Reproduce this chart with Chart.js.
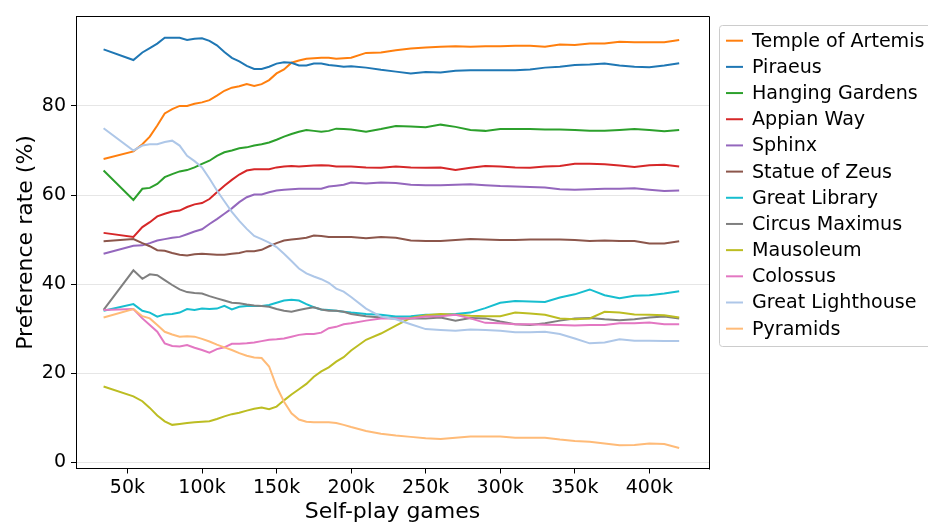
<!DOCTYPE html>
<html><head><meta charset="utf-8">
<script src="https://cdn.jsdelivr.net/npm/chart.js@4"></script>
<style>html,body{margin:0;padding:0;background:#fff;overflow:hidden}#wrap{width:928px;height:523px;position:relative}</style>
</head><body><div id="wrap"><canvas id="c" width="928" height="523"></canvas></div>
<script>
// x positions (thousands of self-play games)
const games = [34, 54, 60, 65, 70, 75, 80, 85, 90, 95, 100, 105, 110, 115, 120, 125, 130, 135, 140, 145, 150, 155, 160, 165, 170, 175, 180, 185, 190, 195, 200, 210, 220, 230, 240, 250, 260, 270, 280, 290, 300, 310, 320, 330, 340, 350, 360, 370, 380, 390, 400, 410, 420];

const templeOfArtemis = [68.1, 69.8, 71.4, 73.1, 75.6, 78.3, 79.3, 80.0, 80.0, 80.5, 80.8, 81.3, 82.3, 83.4, 84.1, 84.4, 84.9, 84.5, 84.9, 85.8, 87.3, 88.2, 89.7, 90.2, 90.6, 90.7, 90.8, 90.8, 90.6, 90.7, 90.8, 91.9, 92.0, 92.5, 92.9, 93.1, 93.3, 93.4, 93.3, 93.4, 93.4, 93.5, 93.5, 93.3, 93.8, 93.7, 94.0, 94.0, 94.4, 94.3, 94.3, 94.3, 94.8];
const piraeus = [92.7, 90.3, 92.0, 93.0, 94.0, 95.3, 95.3, 95.3, 94.8, 95.1, 95.2, 94.6, 93.6, 92.1, 90.8, 90.0, 89.0, 88.3, 88.3, 88.8, 89.5, 89.8, 89.7, 89.1, 89.1, 89.5, 89.5, 89.2, 89.0, 88.8, 88.9, 88.6, 88.1, 87.7, 87.3, 87.6, 87.5, 87.9, 88.0, 88.0, 88.0, 88.0, 88.2, 88.6, 88.8, 89.2, 89.3, 89.5, 89.1, 88.8, 88.7, 89.1, 89.6];
const hangingGardens = [65.5, 58.9, 61.4, 61.6, 62.5, 64.0, 64.7, 65.3, 65.6, 66.2, 67.0, 67.7, 68.8, 69.6, 70.0, 70.5, 70.7, 71.1, 71.4, 71.8, 72.4, 73.1, 73.7, 74.2, 74.6, 74.4, 74.2, 74.4, 74.9, 74.8, 74.7, 74.2, 74.8, 75.5, 75.4, 75.2, 75.8, 75.3, 74.6, 74.4, 74.8, 74.8, 74.8, 74.7, 74.7, 74.6, 74.4, 74.4, 74.6, 74.8, 74.6, 74.3, 74.6];
const appianWay = [51.5, 50.6, 52.8, 53.9, 55.2, 55.8, 56.3, 56.5, 57.3, 57.9, 58.2, 59.1, 60.6, 62.1, 63.4, 64.6, 65.5, 65.8, 65.8, 65.8, 66.2, 66.4, 66.5, 66.4, 66.5, 66.6, 66.7, 66.6, 66.4, 66.4, 66.4, 66.2, 66.1, 66.4, 66.2, 66.1, 66.2, 65.6, 66.1, 66.5, 66.4, 66.2, 66.1, 66.4, 66.5, 67.0, 67.0, 66.9, 66.6, 66.3, 66.7, 66.8, 66.4];
const sphinx = [46.8, 48.6, 48.7, 49.2, 49.8, 50.1, 50.4, 50.6, 51.2, 51.8, 52.3, 53.5, 54.6, 55.8, 57.0, 58.4, 59.5, 60.1, 60.1, 60.6, 61.0, 61.2, 61.3, 61.4, 61.4, 61.4, 61.4, 61.9, 62.1, 62.3, 62.8, 62.6, 62.8, 62.7, 62.3, 62.2, 62.2, 62.3, 62.4, 62.2, 62.0, 61.9, 61.8, 61.7, 61.3, 61.2, 61.3, 61.4, 61.4, 61.5, 61.2, 60.9, 61.0];
const statueOfZeus = [49.6, 50.1, 49.2, 48.5, 47.6, 47.5, 47.0, 46.6, 46.4, 46.7, 46.8, 46.7, 46.6, 46.6, 46.8, 47.0, 47.4, 47.4, 47.7, 48.5, 49.2, 49.8, 50.0, 50.2, 50.4, 50.9, 50.8, 50.6, 50.6, 50.6, 50.6, 50.3, 50.6, 50.4, 49.8, 49.7, 49.7, 49.9, 50.1, 50.0, 49.9, 49.9, 50.0, 50.0, 50.0, 49.9, 49.7, 49.8, 49.7, 49.7, 49.1, 49.1, 49.6];
const greatLibrary = [34.0, 35.5, 34.0, 33.6, 32.7, 33.2, 33.3, 33.6, 34.4, 34.2, 34.5, 34.4, 34.5, 35.1, 34.3, 34.9, 35.1, 35.1, 35.1, 35.3, 35.8, 36.3, 36.5, 36.3, 35.5, 34.8, 34.3, 34.2, 34.0, 33.8, 33.6, 33.3, 33.1, 32.7, 32.8, 33.1, 33.1, 33.3, 33.6, 34.6, 35.8, 36.2, 36.1, 36.0, 37.0, 37.7, 38.8, 37.5, 36.8, 37.4, 37.5, 37.9, 38.4];
const circusMaximus = [34.2, 43.1, 41.2, 42.2, 42.0, 40.9, 39.8, 38.8, 38.2, 38.0, 37.9, 37.3, 36.8, 36.3, 35.8, 35.7, 35.4, 35.2, 35.1, 34.9, 34.4, 34.0, 33.8, 34.2, 34.5, 34.8, 34.3, 34.0, 34.0, 33.8, 33.3, 32.8, 32.5, 32.3, 32.3, 32.3, 32.5, 31.8, 32.4, 32.3, 31.6, 31.0, 30.8, 31.2, 31.8, 32.3, 32.4, 32.1, 31.9, 32.1, 32.5, 32.7, 32.3];
const mausoleum = [17.0, 14.8, 13.7, 12.2, 10.5, 9.2, 8.4, 8.6, 8.8, 9.0, 9.1, 9.2, 9.7, 10.3, 10.8, 11.1, 11.6, 12.0, 12.3, 11.9, 12.5, 13.9, 15.2, 16.4, 17.6, 19.2, 20.4, 21.3, 22.6, 23.6, 25.1, 27.5, 28.9, 30.7, 32.4, 33.0, 33.3, 33.1, 32.9, 32.8, 32.8, 33.6, 33.4, 33.1, 32.3, 32.1, 32.3, 33.8, 33.6, 33.2, 33.1, 33.0, 32.5];
const colossus = [34.2, 34.4, 32.3, 30.8, 29.3, 26.7, 26.1, 26.0, 26.3, 25.7, 25.2, 24.6, 25.4, 25.8, 26.6, 26.6, 26.7, 26.9, 27.2, 27.5, 27.6, 27.8, 28.2, 28.6, 28.8, 28.8, 29.1, 30.1, 30.4, 31.0, 31.2, 31.8, 32.3, 32.3, 32.3, 32.7, 32.8, 33.1, 32.3, 31.3, 31.2, 31.0, 31.0, 30.9, 30.8, 30.7, 30.8, 30.8, 31.2, 31.2, 31.4, 31.0, 31.0];
const greatLighthouse = [75.0, 70.0, 71.1, 71.4, 71.4, 71.9, 72.2, 71.1, 68.8, 67.6, 66.2, 63.7, 61.0, 58.6, 56.2, 54.2, 52.4, 50.8, 50.1, 49.3, 48.3, 46.8, 45.2, 43.5, 42.4, 41.7, 41.1, 40.3, 39.0, 38.3, 37.1, 34.5, 32.7, 32.1, 31.0, 29.9, 29.7, 29.5, 29.8, 29.7, 29.5, 29.2, 29.2, 29.3, 28.8, 27.8, 26.7, 26.9, 27.6, 27.3, 27.3, 27.2, 27.2];
const pyramids = [32.5, 34.4, 32.8, 32.3, 30.8, 29.3, 28.7, 28.2, 28.3, 28.2, 27.7, 27.1, 26.4, 25.8, 25.2, 24.5, 23.9, 23.5, 23.4, 21.5, 17.0, 13.6, 11.0, 9.6, 9.1, 9.0, 9.0, 9.0, 8.8, 8.4, 7.9, 7.0, 6.4, 6.0, 5.7, 5.4, 5.2, 5.5, 5.8, 5.8, 5.8, 5.5, 5.5, 5.5, 5.1, 4.8, 4.6, 4.2, 3.8, 3.9, 4.2, 4.1, 3.2];

const seriesNames = ['Temple of Artemis', 'Piraeus', 'Hanging Gardens', 'Appian Way', 'Sphinx', 'Statue of Zeus', 'Great Library', 'Circus Maximus', 'Mausoleum', 'Colossus', 'Great Lighthouse', 'Pyramids'];
const seriesValues = [templeOfArtemis, piraeus, hangingGardens, appianWay, sphinx, statueOfZeus, greatLibrary, circusMaximus, mausoleum, colossus, greatLighthouse, pyramids];
const seriesColors = ['#ff7f0e', '#1f77b4', '#2ca02c', '#d62728', '#9467bd', '#8c564b', '#17becf', '#7f7f7f', '#bcbd22', '#e377c2', '#aec7e8', '#ffbb78'];

const xTicks = [50, 100, 150, 200, 250, 300, 350, 400];
const yTicks = [0, 20, 40, 60, 80];

Chart.defaults.font.family = "'DejaVu Sans', sans-serif";
Chart.defaults.color = '#000';

const datasets = seriesNames.map((name, i) => ({
  label: name,
  data: games.map((g, j) => ({x: g, y: seriesValues[i][j]})),
  borderColor: seriesColors[i],
  backgroundColor: seriesColors[i],
  borderWidth: 2,
  pointRadius: 0,
  tension: 0,
  fill: false,
  order: -i
}));

const framePlugin = {
  id: 'frame',
  afterDatasetsDraw(chart) {
    const {ctx, chartArea: a} = chart;
    ctx.save();
    ctx.strokeStyle = '#000';
    ctx.lineWidth = 1;
    ctx.beginPath();
    ctx.moveTo(Math.round(a.left) + 0.5, Math.round(a.top) + 0.5);
    ctx.lineTo(Math.round(a.right) + 0.5, Math.round(a.top) + 0.5);
    ctx.lineTo(Math.round(a.right) + 0.5, Math.round(a.bottom) + 0.5);
    ctx.stroke();
    ctx.restore();
  }
};

const legendPlugin = {
  id: 'mplLegend',
  afterDraw(chart) {
    const ctx = chart.ctx;
    ctx.save();
    const x0 = 719.5, y0 = 25.5, w = 240, h = 321, r = 3;
    ctx.beginPath();
    ctx.moveTo(x0 + r, y0);
    ctx.lineTo(x0 + w - r, y0);
    ctx.arcTo(x0 + w, y0, x0 + w, y0 + r, r);
    ctx.lineTo(x0 + w, y0 + h - r);
    ctx.arcTo(x0 + w, y0 + h, x0 + w - r, y0 + h, r);
    ctx.lineTo(x0 + r, y0 + h);
    ctx.arcTo(x0, y0 + h, x0, y0 + h - r, r);
    ctx.lineTo(x0, y0 + r);
    ctx.arcTo(x0, y0, x0 + r, y0, r);
    ctx.closePath();
    ctx.fillStyle = 'rgba(255,255,255,0.8)';
    ctx.fill();
    ctx.strokeStyle = '#cccccc';
    ctx.lineWidth = 1;
    ctx.stroke();
    ctx.font = "19.1px 'DejaVu Sans'";
    ctx.textBaseline = 'middle';
    ctx.textAlign = 'left';
    chart.data.datasets.forEach((ds, i) => {
      const y = 40.7 + i * 26.18;
      ctx.strokeStyle = ds.borderColor;
      ctx.lineWidth = 2;
      ctx.beginPath();
      ctx.moveTo(726, y);
      ctx.lineTo(743, y);
      ctx.stroke();
      ctx.fillStyle = '#000';
      ctx.fillText(ds.label, 752, y + 1);
    });
    ctx.restore();
  }
};

new Chart(document.getElementById('c'), {
  type: 'line',
  data: {datasets},
  plugins: [framePlugin, legendPlugin],
  options: {
    responsive: false,
    animation: false,
    devicePixelRatio: 1,
    layout: {padding: {left: 0, right: 219, top: 15, bottom: 0}},
    plugins: {legend: {display: false}, tooltip: {enabled: false}},
    scales: {
      x: {
        type: 'linear', min: 15.5, max: 440,
        afterBuildTicks: s => { s.ticks = xTicks.map(v => ({value: v})); },
        afterFit: s => { s.height = 54.5; },
        ticks: {callback: v => v + 'k', font: {size: 19}, color: '#000', padding: 3, maxRotation: 0, autoSkip: false},
        grid: {display: true, drawOnChartArea: false, drawTicks: true, tickLength: 5, tickColor: '#000', tickWidth: 1},
        border: {display: true, color: '#000', width: 1},
        title: {display: true, text: 'Self-play games', font: {size: 22, lineHeight: 1.0}, color: '#000', padding: {top: 0, bottom: 0}}
      },
      y: {
        type: 'linear', min: -1.4, max: 100.1,
        afterBuildTicks: s => { s.ticks = yTicks.map(v => ({value: v})); },
        afterFit: s => { s.width = 76; },
        ticks: {font: {size: 19}, color: '#000', padding: 5},
        grid: {color: '#e6e6e6', lineWidth: 1, drawTicks: true, tickLength: 5, tickColor: '#000', tickWidth: 1},
        border: {display: true, color: '#000', width: 1},
        title: {display: true, text: 'Preference rate (%)', font: {size: 22, lineHeight: 1.2}, color: '#000', padding: {top: 13, bottom: 0}}
      }
    }
  }
});
</script>
</body></html>
